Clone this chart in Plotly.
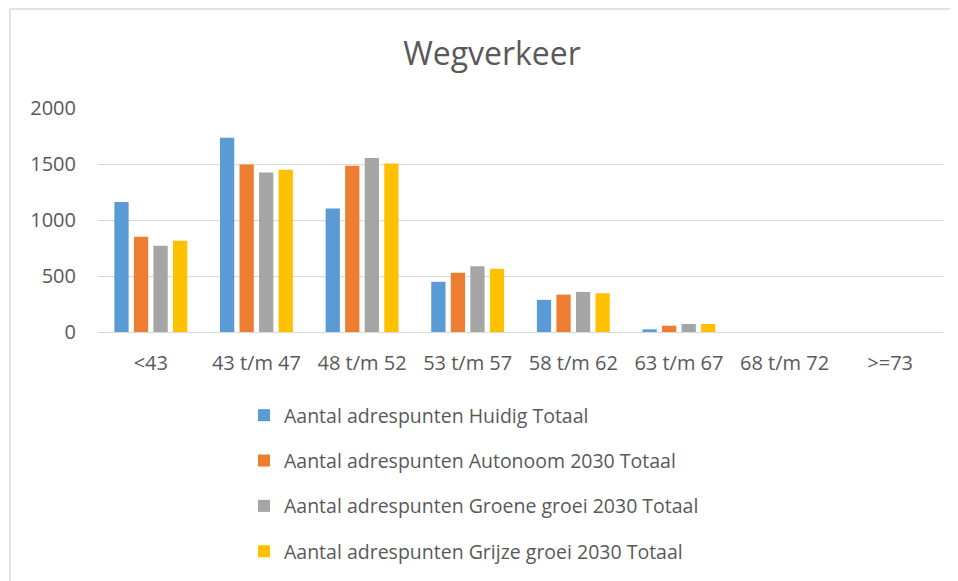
import plotly.graph_objects as go

categories = ["<43", "43 t/m 47", "48 t/m 52", "53 t/m 57", "58 t/m 62", "63 t/m 67", "68 t/m 72", ">=73"]
huidig = [1161, 1735, 1102, 448, 287, 24, 0, 0]
autonoom = [851, 1496, 1484, 529, 334, 56, 0, 0]
groene = [770, 1425, 1553, 588, 358, 72, 0, 0]
grijze = [815, 1448, 1505, 564, 346, 72, 0, 0]

series_names = [
    "Aantal adrespunten Huidig Totaal",
    "Aantal adrespunten Autonoom 2030 Totaal",
    "Aantal adrespunten Groene groei 2030 Totaal",
    "Aantal adrespunten Grijze groei 2030 Totaal",
]
series_values = [huidig, autonoom, groene, grijze]
colors = ["#5B9BD5", "#ED7D31", "#A5A5A5", "#FFC000"]

FONT = "Open Sans"
TXT = "#595959"

W, H = 950, 603
ML, MT, MR, MB = 90, 100, 15, 279
PW, PH = W - ML - MR, H - MT - MB

fig = go.Figure()
for i, (name, vals, col) in enumerate(zip(series_names, series_values, colors)):
    fig.add_trace(go.Bar(
        x=categories, y=vals, name=name, marker_color=col,
        marker_line_width=0, legendgroup=f"g{i}",
    ))

def px_x(p):
    return (p - 8 - ML) / PW

def px_y(p):
    return (MT + PH - (p - 8)) / PH

border = dict(color="#D9D9D9", width=1.5)

fig.update_layout(
    width=W, height=H,
    paper_bgcolor="white", plot_bgcolor="white",
    margin=dict(l=ML, r=MR, t=MT, b=MB),
    barmode="group", bargap=0.26, bargroupgap=0.27,
    title=dict(text="Wegverkeer", xref="container", x=(492 - 8) / W, xanchor="center",
               yref="container", y=1 - 46 / H, yanchor="middle",
               font=dict(family=FONT, size=32, color=TXT)),
    font=dict(family=FONT, color=TXT),
    showlegend=True,
    legend=dict(
        orientation="v", x=px_x(244), xanchor="left",
        y=px_y(396), yanchor="top",
        traceorder="grouped", tracegroupgap=17,
        font=dict(family=FONT, size=19.5, color=TXT),
        bgcolor="rgba(0,0,0,0)",
    ),
    xaxis=dict(
        showgrid=False, showline=True, linecolor="#D9D9D9", linewidth=1,
        ticks="", tickfont=dict(family=FONT, size=20, color=TXT),
        ticklabelstandoff=13,
    ),
    yaxis=dict(
        range=[0, 2000], tickvals=[0, 500, 1000, 1500, 2000],
        showgrid=True, gridcolor="#D9D9D9", gridwidth=1, zeroline=False,
        showline=False, ticks="", tickfont=dict(family=FONT, size=20, color=TXT),
        ticklabelstandoff=21,
    ),
    shapes=[
        dict(type="line", xref="paper", yref="paper",
             x0=px_x(10), x1=px_x(958), y0=px_y(9), y1=px_y(9), line=border, layer="below"),
        dict(type="line", xref="paper", yref="paper",
             x0=px_x(10), x1=px_x(10), y0=px_y(9), y1=px_y(600), line=border, layer="below"),
    ],
)

fig.write_html("out.html")
